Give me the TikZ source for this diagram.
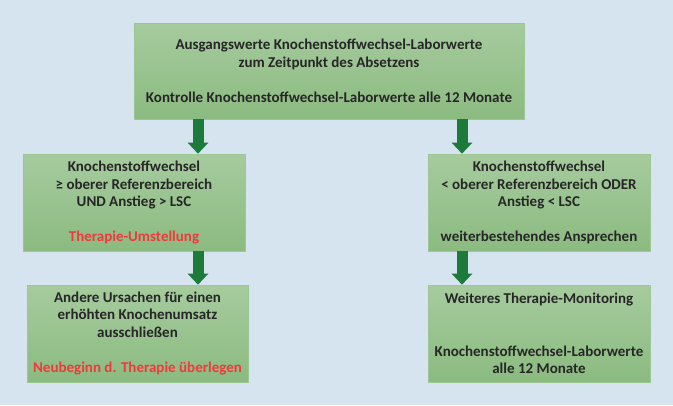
\documentclass[tikz,border=0pt]{standalone}
\usepackage{fontspec}
\setmainfont{Carlito}
\usetikzlibrary{arrows.meta,positioning}
\definecolor{Back}{HTML}{D5E4EF}
\definecolor{BoxTop}{HTML}{A6CB9E}
\definecolor{BoxBot}{HTML}{8BBB80}
\definecolor{BoxLine}{HTML}{9CC792}
\definecolor{Flow}{HTML}{1C7A3A}
\definecolor{Ink}{HTML}{262626}
\definecolor{Warn}{HTML}{F2383C}

\begin{document}
\begin{tikzpicture}[x=1pt,y=-1pt,
    stepbox/.style={draw=BoxLine,line width=0.6pt,top color=BoxTop,bottom color=BoxBot,
      text=Ink,align=center,inner sep=0pt,minimum height=97pt,
      font=\bfseries\fontsize{15}{17.5}\selectfont},
    flow/.style={Flow,line width=11pt,-{Triangle[width=20pt,length=11pt]}}]
  \fill[Back] (0,0) rectangle (673,405);
  \useasboundingbox (0,0) rectangle (673,405);
  \node[stepbox,minimum width=390pt,minimum height=96pt] (start) at (329,71)
    {Ausgangswerte Knochenstoffwechsel-Laborwerte\\zum Zeitpunkt des Absetzens\\~\\
     Kontrolle Knochenstoffwechsel-Laborwerte alle 12 Monate};
  \node[stepbox,minimum width=222pt] (high) at (134,202.5)
    {Knochenstoffwechsel\\≥ oberer Referenzbereich\\UND Anstieg > LSC\\~\\
     \textcolor{Warn}{Therapie-Umstellung}};
  \node[stepbox,minimum width=222pt] (low) at (539,202.5)
    {Knochenstoffwechsel\\< oberer Referenzbereich ODER\\Anstieg < LSC\\~\\
     weiterbestehendes Ansprechen};
  \node[stepbox,minimum width=221pt] (cause) at (137.5,333.5)
    {Andere Ursachen für einen\\erhöhten Knochenumsatz\\ausschließen\\~\\
     \textcolor{Warn}{Neubeginn d. Therapie überlegen}};
  \node[stepbox,minimum width=222pt] (watch) at (539,333.5)
    {Weiteres Therapie-Monitoring\\~\\~\\
     Knochenstoffwechsel-Laborwerte\\alle 12 Monate};
  % connectors
  \coordinate (l1) at (198,0);
  \coordinate (r1) at (462,0);
  \draw[flow] (start.south -| l1) -- (high.north -| l1);
  \draw[flow] (start.south -| r1) -- (low.north -| r1);
  \draw[flow] (high.south -| l1) -- (cause.north -| l1);
  \draw[flow] (low.south -| r1) -- (watch.north -| r1);
\end{tikzpicture}
\end{document}
